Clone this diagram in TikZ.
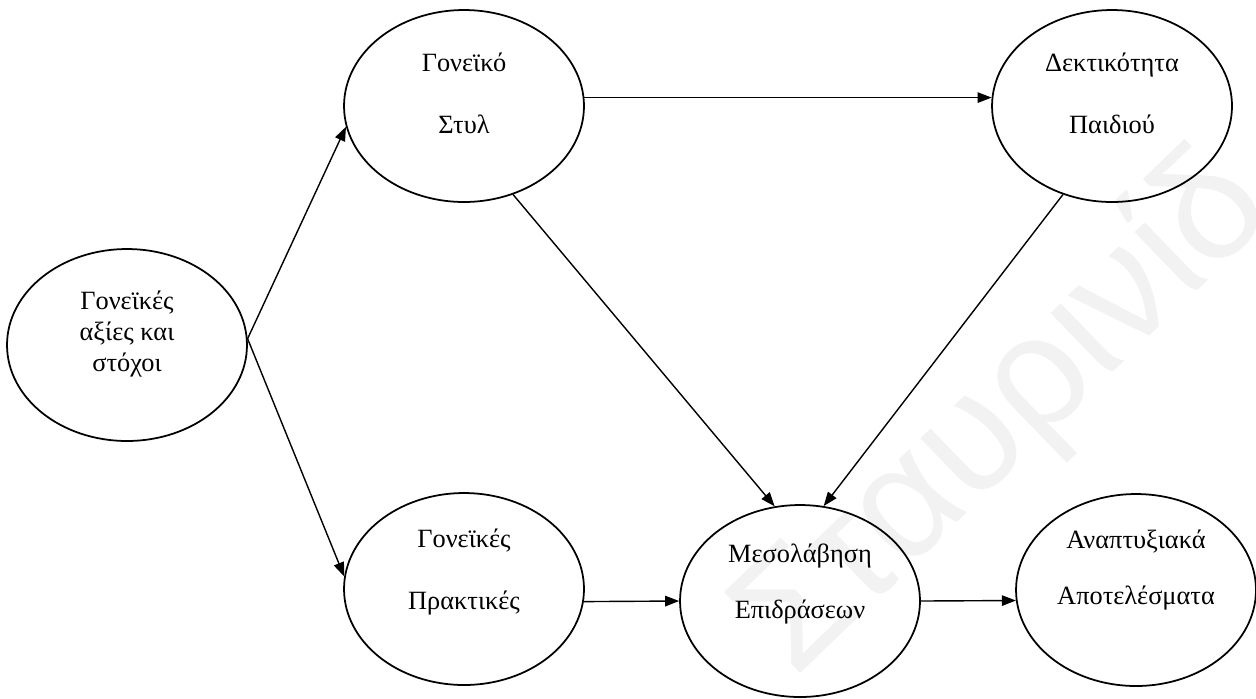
\documentclass[tikz,border=0pt]{standalone}
\usepackage{fontspec}
\setmainfont{Liberation Serif}
\setsansfont{Liberation Sans}
\usetikzlibrary{shapes.geometric,arrows.meta}

\tikzset{
    bubble/.style={draw, ellipse, line width=1pt, minimum width=4.8cm, minimum height=3.84cm, inner sep=0pt},
    txt/.style={align=center, font=\fontsize{15}{17.6}\selectfont},
    arr/.style={-{Triangle[length=8pt,width=6pt]}, line width=0.8pt},
    wmark/.style={text=black!5, font=\fontsize{92}{92}\sffamily, rotate=44}
}

\begin{document}
\begin{tikzpicture}[x=0.02cm, y=-0.02cm]
            \useasboundingbox (0,0) rectangle (1256,698);

            \node[wmark] (wm) at (1005,415) {Σταυρινίδ};

            \node[bubble] (axies) at (127,345) {};
            \node[bubble] (styl) at (464,106) {};
            \node[bubble] (dekt) at (1112,106) {};
            \node[bubble] (prakt) at (464,589) {};
            \node[bubble] (meso) at (800,601) {};
            \node[bubble] (apot) at (1136,590) {};

            \node[txt, yshift=0.22cm] (axiestxt) at (axies) {Γονεϊκές\\αξίες και\\στόχοι};
            \node[txt, yshift=0.26cm] (styltxt) at (styl) {Γονεϊκό\\[17.6pt]Στυλ};
            \node[txt, yshift=0.26cm] (dekttxt) at (dekt) {Δεκτικότητα\\[17.6pt]Παιδιού};
            \node[txt, yshift=0.34cm] (prakttxt) at (prakt) {Γονεϊκές\\[17.6pt]Πρακτικές};
            \node[txt, yshift=0.34cm] (mesotxt) at (meso) {Μεσολάβηση\\[14pt]Επιδράσεων};
            \node[txt, yshift=0.40cm] (apottxt) at (apot) {Αναπτυξιακά\\[14pt]Αποτελέσματα};

            \foreach \a / \b in {axies.3/styl.190, axies.3/prakt.174, styl.4/dekt.176,
                                 styl.-61/meso.105, dekt.241/meso.76,
                                 prakt.-6/meso.west, meso.east/apot.185}
                {
                    \draw[arr] (\a) -- (\b);
                }

        \end{tikzpicture}
\end{document}
